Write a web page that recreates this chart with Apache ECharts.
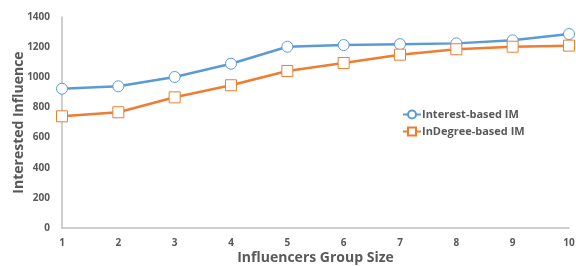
<!DOCTYPE html>
<html><head><meta charset="utf-8">
<script src="https://cdn.jsdelivr.net/npm/echarts@6/dist/echarts.min.js"></script>
<style>html,body{margin:0;padding:0;background:#fff}#c{width:576px;height:266px}</style>
</head><body><div id="c"></div>
<script>
const categories = ['1','2','3','4','5','6','7','8','9','10'];
const interestIM = [924, 940, 1002, 1090, 1203, 1214, 1220, 1225, 1245, 1287];
const indegreeIM = [741, 768, 867, 947, 1042, 1095, 1150, 1186, 1203, 1210];
const yTicks = [0, 200, 400, 600, 800, 1000, 1200, 1400];

const FONT = '"Open Sans", "Noto Sans", sans-serif';
const chart = echarts.init(document.getElementById('c'), null, {renderer:'canvas'});
chart.setOption({
  animation:false,
  grid:{left:62, right:7, top:17, bottom:38, containLabel:false, outerBoundsMode:'none'},
  legend:{
    orient:'vertical', left:397, top:104, itemGap:6, itemWidth:18, itemHeight:10,
    textStyle:{color:'#595959', fontWeight:'bold', fontSize:11, fontFamily:FONT, padding:[0,0,0,-4]},
    data:['Interest-based IM','InDegree-based IM']
  },
  xAxis:{
    type:'category', data:categories, boundaryGap:false,
    name:'Influencers Group Size', nameLocation:'middle', nameGap:23, nameMoveOverlap:false,
    nameTextStyle:{color:'#595959', fontWeight:'bold', fontSize:14, fontFamily:FONT},
    axisLine:{lineStyle:{color:'#bfbfbf', width:1.5}},
    axisTick:{show:false},
    axisLabel:{color:'#595959', fontWeight:'bold', fontSize:10, fontFamily:FONT, margin:10}
  },
  yAxis:{
    type:'value', min:yTicks[0], max:yTicks[yTicks.length-1], interval:200,
    name:'Interested Influence', nameLocation:'middle', nameGap:36, nameMoveOverlap:false,
    nameTextStyle:{color:'#595959', fontWeight:'bold', fontSize:14, fontFamily:FONT},
    axisLine:{show:true, lineStyle:{color:'#bfbfbf', width:1.5}},
    axisTick:{show:false},
    splitLine:{show:false},
    axisLabel:{color:'#595959', fontWeight:'bold', fontSize:10, fontFamily:FONT, margin:12,
      formatter:function(v){return String(v);}}
  },
  series:[
    {name:'Interest-based IM', type:'line', data:interestIM, symbol:'circle', symbolSize:11,
     lineStyle:{color:'#5b9bd5', width:2.5}, itemStyle:{color:'#fff', borderColor:'#5b9bd5', borderWidth:1}},
    {name:'InDegree-based IM', type:'line', data:indegreeIM, symbol:'rect', symbolSize:11,
     lineStyle:{color:'#ed7d31', width:2.5}, itemStyle:{color:'#fff', borderColor:'#ed7d31', borderWidth:1}}
  ]
});
</script></body></html>
